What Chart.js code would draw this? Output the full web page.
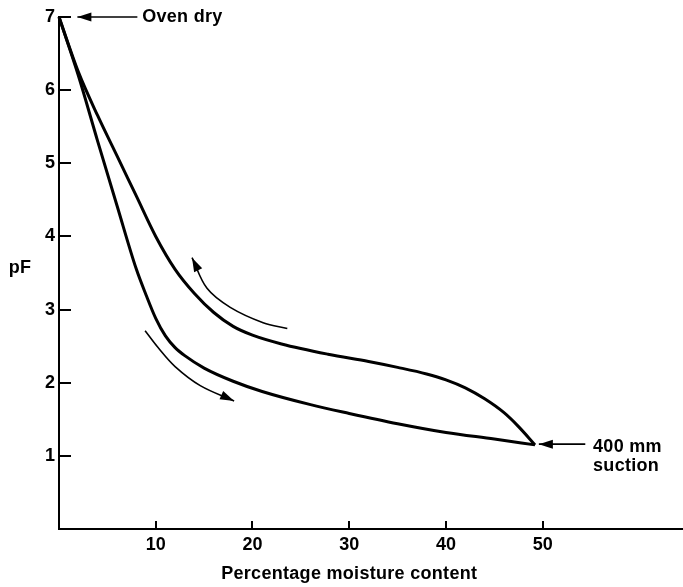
<!DOCTYPE html>
<html lang="en">
<head>
<meta charset="UTF-8">
<title>Moisture characteristic curve</title>
<script src="https://cdn.jsdelivr.net/npm/chart.js"></script>
<style>
  body { margin: 0; background: #fff; }
  #contenedor { width: 683px; height: 587px; }
</style>
</head>
<body>
<div id="contenedor"><canvas id="grafico"></canvas></div>
<script>
  // wetting curve (lower branch), oven dry -> 400 mm suction
  var wettingX = [0, 2, 4, 6, 8, 9, 10, 11, 12, 13, 15, 18, 21, 26, 30, 35, 40, 45, 49.2];
  var wettingY = [7, 6.2, 5.3, 4.42, 3.55, 3.2, 2.88, 2.64, 2.48, 2.37, 2.2, 2.02, 1.88, 1.70, 1.58, 1.44, 1.32, 1.23, 1.15];

  // drying curve (upper branch)
  var dryingX = [0, 2, 4, 6, 8, 10, 12, 14, 16, 18, 20, 23, 27.8, 32, 35, 38, 40, 42, 44, 46, 47.5, 49.2];
  var dryingY = [7, 6.25, 5.65, 5.1, 4.55, 4.0, 3.55, 3.22, 2.96, 2.77, 2.65, 2.53, 2.39, 2.29, 2.21, 2.12, 2.04, 1.93, 1.78, 1.59, 1.40, 1.15];

  // direction arrows (last point is the arrow tip)
  var dryArrowX = [23.6, 21.1, 17.7, 15.3, 13.75];
  var dryArrowY = [2.74, 2.82, 3.03, 3.29, 3.71];
  var wetArrowX = [8.9, 10.24, 12.0, 14.6, 18.1];
  var wetArrowY = [2.71, 2.48, 2.22, 1.96, 1.75];
  var ovenArrowX = [8.1, 1.9];
  var ovenArrowY = [7, 7];
  var suctionArrowX = [54.4, 49.6];
  var suctionArrowY = [1.16, 1.16];

  var xTicks = [10, 20, 30, 40, 50];
  var yTicks = [1, 2, 3, 4, 5, 6, 7];

  var fuente = 'Liberation Sans, Arial, sans-serif';

  function puntos(xs, ys) {
    return xs.map(function (x, i) { return { x: x, y: ys[i] }; });
  }

  function curva(xs, ys, ancho, suave) {
    var d = {
      data: puntos(xs, ys),
      borderColor: '#000',
      borderWidth: ancho,
      pointRadius: 0,
      fill: false,
      clip: false
    };
    if (suave) d.tension = 0.35; else d.cubicInterpolationMode = 'monotone';
    return d;
  }

  function flecha(ctx, x1, y1, x2, y2, largo, medio) {
    var ang = Math.atan2(y2 - y1, x2 - x1);
    ctx.save();
    ctx.translate(x2, y2);
    ctx.rotate(ang);
    ctx.beginPath();
    ctx.moveTo(0, 0);
    ctx.lineTo(-largo, -medio);
    ctx.lineTo(-largo, medio);
    ctx.closePath();
    ctx.fill();
    ctx.restore();
  }

  var extras = {
    id: 'extras',
    afterDatasetsDraw: function (chart) {
      var ctx = chart.ctx;
      var sx = chart.scales.x, sy = chart.scales.y;
      var area = chart.chartArea;
      ctx.save();
      ctx.fillStyle = '#000';
      ctx.strokeStyle = '#000';

      // tick marks pointing into the plot
      ctx.lineWidth = 2;
      yTicks.forEach(function (v) {
        var py = Math.round(sy.getPixelForValue(v));
        ctx.beginPath();
        ctx.moveTo(area.left, py);
        ctx.lineTo(area.left + 12, py);
        ctx.stroke();
      });
      xTicks.forEach(function (v) {
        var px = Math.round(sx.getPixelForValue(v));
        ctx.beginPath();
        ctx.moveTo(px, area.bottom);
        ctx.lineTo(px, area.bottom - 8);
        ctx.stroke();
      });

      // arrow heads
      [[dryArrowX, dryArrowY], [wetArrowX, wetArrowY], [ovenArrowX, ovenArrowY], [suctionArrowX, suctionArrowY]].forEach(function (a) {
        var xs = a[0], ys = a[1], n = xs.length;
        flecha(ctx,
          sx.getPixelForValue(xs[n - 2]), sy.getPixelForValue(ys[n - 2]),
          sx.getPixelForValue(xs[n - 1]), sy.getPixelForValue(ys[n - 1]), 14, 4.5);
      });

      // labels
      ctx.font = 'bold 18px ' + fuente;
      ctx.letterSpacing = '0.3px';
      ctx.textBaseline = 'middle';
      ctx.textAlign = 'left';
      ctx.fillText('Oven dry', sx.getPixelForValue(8.6), sy.getPixelForValue(7));
      ctx.fillText('400 mm', sx.getPixelForValue(55.2), sy.getPixelForValue(1.12));
      ctx.fillText('suction', sx.getPixelForValue(55.2), sy.getPixelForValue(0.86));

      // axis titles
      ctx.textAlign = 'center';
      ctx.fillText('pF', 20, sy.getPixelForValue(3.57));
      ctx.fillText('Percentage moisture content', sx.getPixelForValue(30), 574);
      ctx.restore();
    }
  };

  var ctx = document.getElementById('grafico').getContext('2d');

  var grafico = new Chart(ctx, {
    type: 'line',
    data: {
      datasets: [
        curva(wettingX, wettingY, 3, false),
        curva(dryingX, dryingY, 3, false),
        curva(dryArrowX, dryArrowY, 1.6, true),
        curva(wetArrowX, wetArrowY, 1.6, true),
        curva(ovenArrowX, ovenArrowY, 1.6, true),
        curva(suctionArrowX, suctionArrowY, 1.6, true)
      ]
    },
    options: {
      responsive: true,
      maintainAspectRatio: false,
      animation: false,
      layout: { padding: { top: 17, right: 0, bottom: 0, left: 0 } },
      plugins: {
        legend: { display: false },
        tooltip: { enabled: false }
      },
      scales: {
        x: {
          type: 'linear',
          min: 0,
          max: 64.5,
          afterFit: function (s) { s.height = 58; },
          afterBuildTicks: function (s) { s.ticks = xTicks.map(function (v) { return { value: v }; }); },
          grid: { display: false, drawTicks: false },
          border: { display: true, color: '#000', width: 2 },
          ticks: { padding: 5, color: '#000', font: { family: fuente, size: 18, weight: 'bold' } }
        },
        y: {
          type: 'linear',
          min: 0,
          max: 7,
          afterFit: function (s) { s.width = 59; },
          afterBuildTicks: function (s) { s.ticks = yTicks.map(function (v) { return { value: v }; }); },
          grid: { display: false, drawTicks: false },
          border: { display: true, color: '#000', width: 2 },
          ticks: { padding: 4, color: '#000', font: { family: fuente, size: 18, weight: 'bold' } }
        }
      }
    },
    plugins: [extras]
  });
</script>
</body>
</html>
